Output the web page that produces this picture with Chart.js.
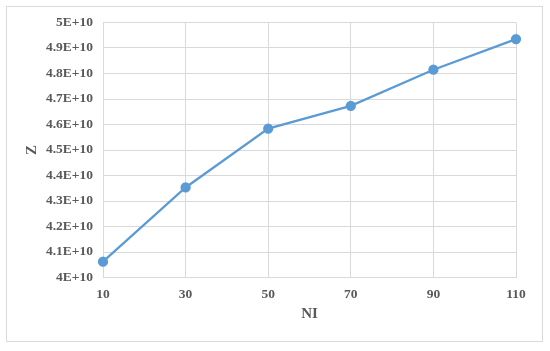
<!DOCTYPE html>
<html>
<head>
<meta charset="utf-8">
<script src="https://cdn.jsdelivr.net/npm/chart.js@4.4.1/dist/chart.umd.min.js"></script>
<style>
  html, body { margin: 0; padding: 0; background: #ffffff; }
  #wrap { position: relative; width: 550px; height: 351px; }
  #frame { position: absolute; left: 6px; top: 6px; width: 537px; height: 336px; box-sizing: border-box; border: 1px solid #d9d9d9; pointer-events: none; }
  canvas { position: absolute; left: 0; top: 0; }
</style>
</head>
<body>
<div id="wrap">
  <div id="frame"></div>
  <canvas id="c" width="550" height="351"></canvas>
</div>
<script>
const categories = ['10', '30', '50', '70', '90', '110'];
const zValues = [4.062e10, 4.353e10, 4.584e10, 4.673e10, 4.815e10, 4.935e10];
const yTickValues = [4e10, 4.1e10, 4.2e10, 4.3e10, 4.4e10, 4.5e10, 4.6e10, 4.7e10, 4.8e10, 4.9e10, 5e10];
const yTickLabels = ['4E+10', '4.1E+10', '4.2E+10', '4.3E+10', '4.4E+10', '4.5E+10', '4.6E+10', '4.7E+10', '4.8E+10', '4.9E+10', '5E+10'];
const xTitle = 'NI';
const yTitle = 'Z';

const textColor = '#595959';
const gridColor = '#d9d9d9';
const lineColor = '#5b9bd5';

new Chart(document.getElementById('c'), {
  type: 'line',
  data: {
    labels: categories,
    datasets: [{
      data: zValues,
      borderColor: lineColor,
      backgroundColor: lineColor,
      borderWidth: 2.25,
      pointRadius: 4,
      pointBackgroundColor: lineColor,
      pointBorderColor: lineColor,
      tension: 0,
      fill: false
    }]
  },
  options: {
    responsive: false,
    animation: false,
    devicePixelRatio: 1,
    layout: { padding: { top: 22.5, right: 34, left: 0, bottom: 0 } },
    plugins: { legend: { display: false }, tooltip: { enabled: false } },
    scales: {
      x: {
        type: 'category',
        offset: false,
        grid: { color: gridColor, lineWidth: 1, drawTicks: false },
        border: { color: gridColor, width: 1 },
        ticks: {
          color: textColor,
          padding: 9,
          maxRotation: 0,
          font: { family: 'Liberation Serif', size: 13.5, weight: 'bold' }
        },
        title: {
          display: true,
          text: xTitle,
          color: textColor,
          padding: { top: 0, bottom: 28 },
          font: { family: 'Liberation Serif', size: 15, weight: 'bold' }
        },
        afterFit: (s) => { s.height = 73.5; }
      },
      y: {
        min: yTickValues[0],
        max: yTickValues[yTickValues.length - 1],
        afterBuildTicks: (s) => { s.ticks = yTickValues.map(v => ({ value: v })); },
        grid: { color: gridColor, lineWidth: 1, drawTicks: false },
        border: { color: gridColor, width: 1 },
        ticks: {
          color: textColor,
          padding: 10,
          font: { family: 'Liberation Serif', size: 13.5, weight: 'bold' },
          callback: (v) => { const i = yTickValues.indexOf(v); return i >= 0 ? yTickLabels[i] : ''; }
        },
        title: {
          display: true,
          text: yTitle,
          color: textColor,
          padding: { top: 23.5, bottom: 0 },
          font: { family: 'Liberation Serif', size: 15, weight: 'bold' }
        },
        afterFit: (s) => { s.width = 103; }
      }
    }
  }
});
</script>
</body>
</html>
